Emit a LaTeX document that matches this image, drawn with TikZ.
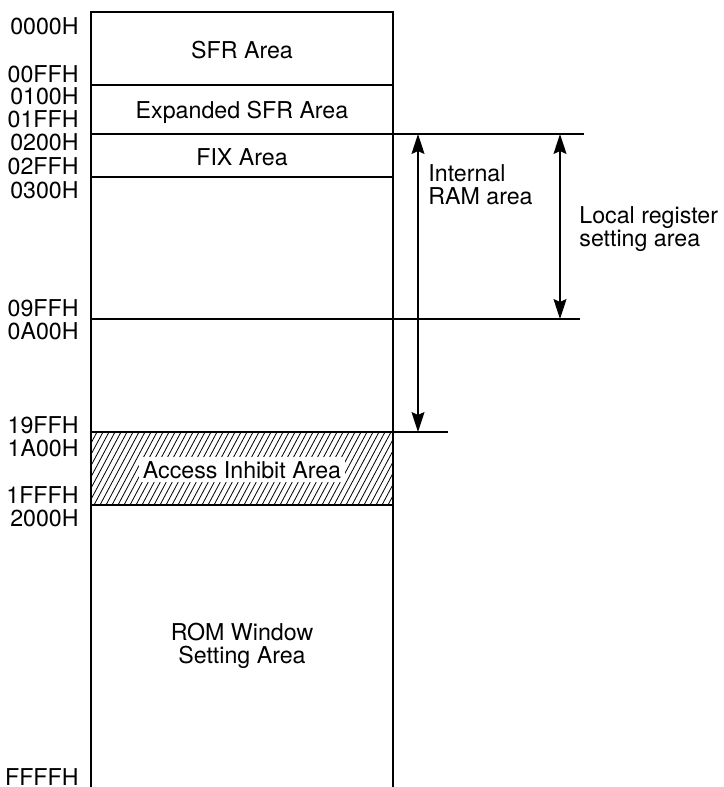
\documentclass[tikz,border=0pt]{standalone}
\usepackage{fontspec}
\setmainfont{TeX Gyre Heros}
\usetikzlibrary{arrows.meta}
\tikzstyle{addr} = [anchor=base east, inner sep=0pt]
\tikzstyle{area} = [align=center, inner sep=1pt]
\tikzstyle{note} = [align=left, anchor=west, inner sep=0pt]
\tikzstyle{border} = [line width=0.6pt]
\tikzstyle{hatch} = [line width=0.4pt]
\tikzstyle{dim} = [line width=0.6pt, {Stealth[length=10pt,width=6.5pt,inset=1.5pt]}-{Stealth[length=10pt,width=6.5pt,inset=1.5pt]}]

\begin{document}
\begin{tikzpicture}[x=0.5pt, y=-0.5pt, font=\fontsize{11.6}{11.6}\selectfont]

  \useasboundingbox (0,0) rectangle (723,787);

  % hatched area
  \begin{scope}
    \clip (91,432) rectangle (393,505);
    \foreach \x in {40,46,...,400}
      \draw [hatch] (\x,505) -- ++(39,-73);
  \end{scope}

  % memory map
  \draw [border] (91,787) -- (91,12) -- (393,12) -- (393,787);
  \draw [border] (91,85) -- (393,85);
  \draw [border] (91,177) -- (393,177);
  \draw [border] (91,505) -- (393,505);
  \draw [border] (91,134) -- (584,134);
  \draw [border] (91,319) -- (580,319);
  \draw [line width=0.9pt] (91,432) -- (393,432);
  \draw [border] (393,432) -- (448,432);

  \node (sfr) [area, anchor=base] at (242,58) {SFR Area};
  \node (xsfr) [area, anchor=base] at (242,118) {Expanded SFR Area};
  \node (fix) [area, anchor=base] at (242,165) {FIX Area};
  \node (inhibit) [area, anchor=base, fill=white, inner sep=2pt] at (242,478) {Access Inhibit Area};
  \node (rom) [area] at (242,646) {ROM Window\\Setting Area};

  \node (a0000) [addr] at (79,34) {0000H};
  \node (a00ff) [addr] at (79,82) {00FFH};
  \node (a0100) [addr] at (79,104) {0100H};
  \node (a01ff) [addr] at (79,127) {01FFH};
  \node (a0200) [addr] at (79,150) {0200H};
  \node (a02ff) [addr] at (79,174) {02FFH};
  \node (a0300) [addr] at (79,198) {0300H};
  \node (a09ff) [addr] at (79,316) {09FFH};
  \node (a0a00) [addr] at (79,339) {0A00H};
  \node (a19ff) [addr] at (79,433) {19FFH};
  \node (a1a00) [addr] at (79,456) {1A00H};
  \node (a1fff) [addr] at (79,503) {1FFFH};
  \node (a2000) [addr] at (79,526) {2000H};
  \node (affff) [addr] at (79,785) {FFFFH};

  % dimension arrows
  \coordinate (ramtop) at (418,134);
  \coordinate (rambot) at (418,432);
  \coordinate (loctop) at (560,134);
  \coordinate (locbot) at (560,319);
  \draw [dim] (ramtop) -- (rambot);
  \draw [dim] (loctop) -- (locbot);

  \node (ram) [note] at (428,185) {Internal\\RAM area};
  \node (local) [note] at (579,229) {Local register\\setting area};

\end{tikzpicture}
\end{document}
